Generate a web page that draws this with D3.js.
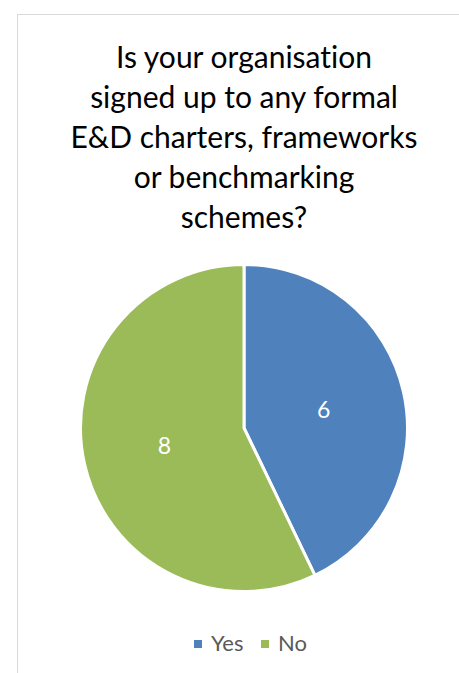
<!DOCTYPE html>
<html>
<head>
<meta charset="utf-8">
<script src="https://cdn.jsdelivr.net/npm/d3@7"></script>
<style>
  html, body { margin: 0; padding: 0; background: #fff; }
  svg { display: block; }
  text { font-variant-ligatures: none; font-feature-settings: "liga" 0, "clig" 0; }
</style>
</head>
<body>
<svg id="chart" width="459" height="673"></svg>
<script>
// Survey answers
const categories = ["Yes", "No"];
const counts = [6, 8];
const titleLines = [
  "Is your organisation",
  "signed up to any formal",
  "E&D charters, frameworks",
  "or benchmarking",
  "schemes?"
];

const colors = d3.scaleOrdinal().domain(categories).range(["#4F81BD", "#9BBB59"]);
const font = "Lato, 'Open Sans', sans-serif";

const svg = d3.select("#chart");

// chart area frame (top and left edges visible)
svg.append("rect")
  .attr("x", 17.5).attr("y", 14.5)
  .attr("width", 480).attr("height", 700)
  .attr("fill", "#fff")
  .attr("stroke", "#D9D9D9")
  .attr("stroke-width", 1);

// title
const cx = 244;
svg.append("text")
  .attr("text-anchor", "middle")
  .attr("font-family", font)
  .attr("font-size", 30)
  .attr("fill", "#000")
  .selectAll("tspan")
  .data(titleLines)
  .join("tspan")
  .attr("x", cx)
  .attr("y", (d, i) => 68 + i * 40)
  .text(d => d);

// pie
const radius = 163.5;
const cy = 428;
const pie = d3.pie().sort(null).value(d => d.value);
const arcs = pie(categories.map((c, i) => ({ cat: c, value: counts[i] })));
const arc = d3.arc().innerRadius(0).outerRadius(radius);
const labelArc = d3.arc().innerRadius(radius / 2).outerRadius(radius / 2);

const g = svg.append("g").attr("transform", `translate(${cx},${cy})`);
g.selectAll("path")
  .data(arcs)
  .join("path")
  .attr("d", arc)
  .attr("fill", d => colors(d.data.cat))
  .attr("stroke", "#fff")
  .attr("stroke-width", 3)
  .attr("stroke-linejoin", "round");

g.selectAll("text.label")
  .data(arcs)
  .join("text")
  .attr("class", "label")
  .attr("transform", d => `translate(${labelArc.centroid(d)})`)
  .attr("text-anchor", "middle")
  .attr("dy", "0.35em")
  .attr("font-family", font)
  .attr("font-size", 23)
  .attr("fill", "#fff")
  .text(d => d.data.value);

// legend
const legendX = [194, 261];
const legend = svg.append("g");
const items = legend.selectAll("g")
  .data(categories)
  .join("g")
  .attr("transform", (d, i) => `translate(${legendX[i]},640)`);
items.append("rect")
  .attr("width", 8).attr("height", 8)
  .attr("fill", d => colors(d));
items.append("text")
  .attr("x", 17)
  .attr("y", 11)
  .attr("font-family", font)
  .attr("font-size", 22)
  .attr("fill", "#595959")
  .text(d => d);
</script>
</body>
</html>
